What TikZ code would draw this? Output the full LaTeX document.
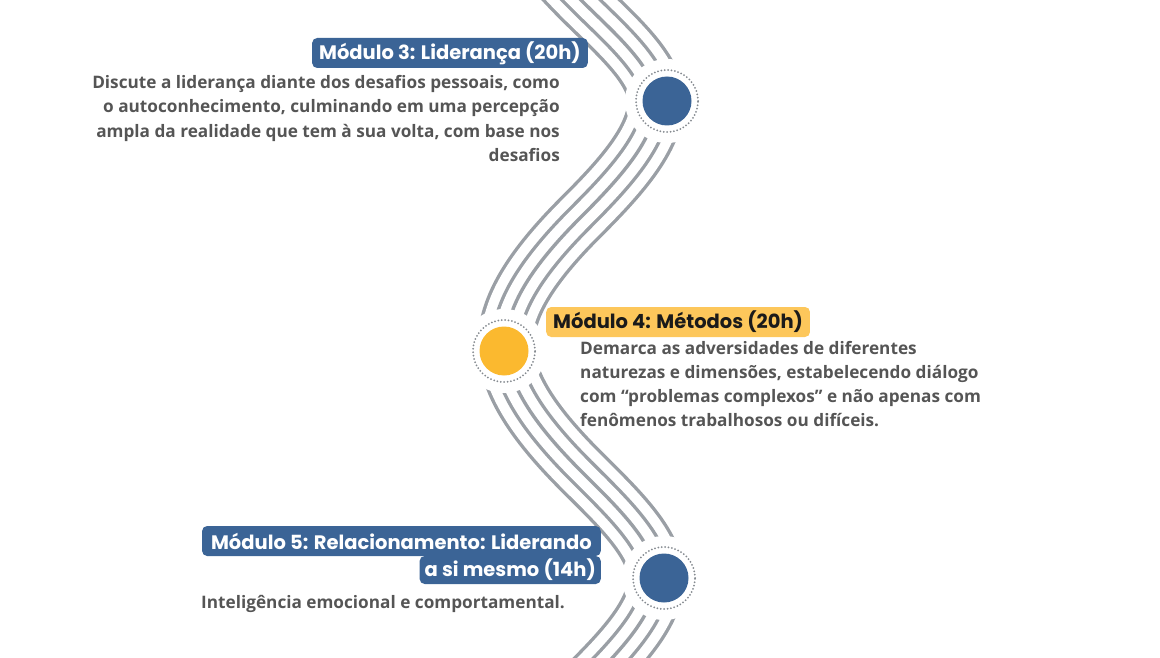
\documentclass[tikz,border=0pt]{standalone}
\usepackage{fontspec}
\setmainfont{Open Sans}
\newfontfamily\titlefont{Poppins}
\definecolor{navy}{HTML}{3B6496}
\definecolor{sun}{HTML}{FBB92F}
\definecolor{sunlight}{HTML}{FDC75B}
\definecolor{wavegray}{HTML}{9A9FA5}
\definecolor{bodygray}{HTML}{555555}
\definecolor{dotgray}{HTML}{858A90}
\definecolor{darktext}{HTML}{1A1A1A}
\tikzset{
  titlebox/.style={rounded corners=5pt, inner xsep=7pt, inner ysep=0pt, minimum height=30pt,
    font=\titlefont\bfseries\fontsize{19.5}{22}\selectfont, text=white, fill=navy},
  bodytext/.style={inner sep=0pt, text=bodygray, font=\bfseries\fontsize{17.2}{24.5}\selectfont},
  dot/.style={circle, inner sep=0pt, minimum size=49pt},
  ring/.style={dotgray, line width=2pt, line cap=round, dash pattern=on 0pt off 3.4pt},
  gap/.style={fill=white}
}
\begin{document}
\begin{tikzpicture}[x=1pt,y=-1pt]
\useasboundingbox (0,0) rectangle (1160,658);
\clip (0,0) rectangle (1160,658);
\def\wave{(506,-125) .. controls (506,-84) and (540,-41) .. (581,0)
  .. controls (614,33) and (656,68) .. (656,101)
  .. controls (656,139) and (619,179) .. (581,217)
  .. controls (539,259) and (506,302) .. (506,344)
  .. controls (506,386) and (539,429) .. (581,471)
  .. controls (616,506) and (656,543) .. (656,578)
  .. controls (656,615) and (618,653) .. (581,690)
  .. controls (544,730) and (506,770) .. (506,810)}
\foreach \w/\c in {57.4/wavegray, 50.6/white, 30.4/wavegray, 23.6/white, 3.4/wavegray}
  \draw[line width=\w pt, \c] \wave;
% gaps around circles
\fill[gap] (667,101) circle[radius=42pt];
\fill[gap] (504,351) circle[radius=42pt];
\fill[gap] (664,578) circle[radius=42pt];
% circles
\node[dot, fill=navy] (c3) at (667,101) {};
\node[dot, fill=sun] (c4) at (504,351) {};
\node[dot, fill=navy] (c5) at (664,578) {};
\draw[ring] (c3.center) circle[radius=31pt];
\draw[ring] (c4.center) circle[radius=31pt];
\draw[ring] (c5.center) circle[radius=31pt];
% Module 3
\node[titlebox, anchor=east] (t3) at (588,53) {Módulo 3: Liderança (20h)};
\node[bodytext, align=right, anchor=base east] (b3) at (560,161.5)
  {Discute a liderança diante dos desafios pessoais, como\\
   o autoconhecimento, culminando em uma percepção\\
   ampla da realidade que tem à sua volta, com base nos\\
   desafios};
% Module 4
\node[titlebox, fill=sunlight, text=darktext, anchor=west] (t4) at (546,322) {Módulo 4: Métodos (20h)};
\node[bodytext, align=left, anchor=base west, font=\bfseries\fontsize{17.2}{24}\selectfont] (b4) at (580,426)
  {Demarca as adversidades de diferentes\\
   naturezas e dimensões, estabelecendo diálogo\\
   com “problemas complexos” e não apenas com\\
   fenômenos trabalhosos ou difíceis.};
% Module 5
\node[titlebox, anchor=east, inner xsep=9pt] (t5a) at (601,541) {Módulo 5: Relacionamento: Liderando};
\node[titlebox, anchor=east, minimum height=28pt, inner xsep=5pt] (t5b) at (601,570) {a si mesmo (14h)};
\node[bodytext, anchor=base west] (b5) at (201,608) {Inteligência emocional e comportamental.};
\end{tikzpicture}
\end{document}
